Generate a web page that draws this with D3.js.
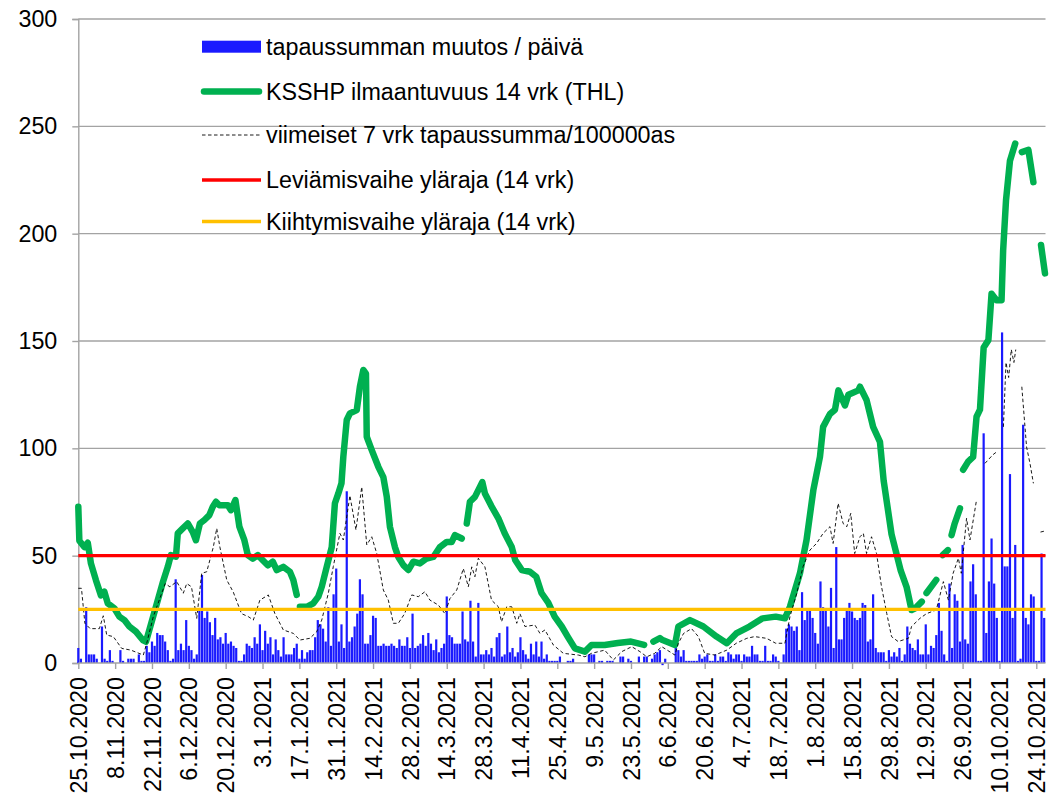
<!DOCTYPE html>
<html>
<head>
<meta charset="utf-8">
<script src="https://cdn.jsdelivr.net/npm/d3@7"></script>
<style>
  body { margin: 0; background: #fff; }
  svg { display: block; font-family: "Liberation Sans", Arial, sans-serif; }
</style>
</head>
<body>
<div id="chart"></div>
<script>
// x-axis labels, one every 14 days starting 25.10.2020 (day 0)
const tickLabels = [
  "25.10.2020", "8.11.2020", "22.11.2020", "6.12.2020", "20.12.2020",
  "3.1.2021", "17.1.2021", "31.1.2021", "14.2.2021", "28.2.2021",
  "14.3.2021", "28.3.2021", "11.4.2021", "25.4.2021", "9.5.2021",
  "23.5.2021", "6.6.2021", "20.6.2021", "4.7.2021", "18.7.2021",
  "1.8.2021", "15.8.2021", "29.8.2021", "12.9.2021", "26.9.2021",
  "10.10.2021", "24.10.2021"
];
const yTicks = [0, 50, 100, 150, 200, 250, 300];

// tapaussumman muutos / päivä, one value per day from 25.10.2020
const dailyCases = [
  7, 2, 0, 26, 4, 4, 4, 2, 0, 17,
  2, 1, 6, 1, 0, 0, 6, 1, 0, 2,
  2, 2, 0, 4, 1, 1, 8, 5, 10, 8,
  14, 13, 13, 10, 6, 1, 2, 39, 6, 9,
  6, 20, 8, 6, 2, 4, 25, 41, 21, 24,
  19, 13, 21, 11, 12, 9, 14, 9, 10, 8,
  7, 1, 1, 4, 9, 8, 7, 12, 9, 18,
  6, 15, 9, 12, 4,
  11, 6, 3, 12, 4, 4, 4, 7, 9, 2,
  6, 2, 5, 6, 6, 12, 20, 18, 16, 10,
  26, 8, 32, 44, 10, 18, 7, 80,
  10, 12, 17, 23, 39, 32, 9, 9, 13, 22,
  21, 8, 8, 9, 8, 8, 9, 8, 7, 11,
  8, 8, 12, 7, 23, 7, 8, 9, 13, 8,
  14, 9, 6, 11, 5, 7, 9, 31, 13, 12,
  9, 9, 9, 24, 11, 10,
  29, 10, 3, 28, 4, 4, 6, 4, 7, 3,
  12, 14, 3, 4, 17, 5, 7, 3, 5, 12,
  6, 4, 2, 9, 4, 10, 3, 10, 2, 4,
  1, 1, 1, 1, 3, 0, 0, 1, 1, 2,
  0, 0, 0, 0, 0, 4, 4, 4, 0, 1,
  1, 0, 1, 1, 1, 0, 0, 3, 3, 0,
  2, 1, 0, 0, 3, 0, 3, 3, 0, 2,
  4, 5, 6,
  -1, 2, 0, 0, 0, 12, 6, 3, 6, 1,
  1, 1, 1, 1, 4, 2, 3, 4, 1, 1,
  4, 1, 3, 3, 1, 5, 4, 2, 4, 4,
  1, 4, 3, 3, 8, 4, 4, 1, 1, 8,
  1, 1, 4, 3, 1, 0, 4, 16, 18, 17,
  15, 17, 6, 33, 20, 25, 25, 21, 14, 9,
  38, 26, 25, 17, 35, 7, 54, 11, 11, 21,
  25, 28, 24, 21,
  20, 21, 28, 27, 10, 11, 32, 7, 5, 5,
  5, 1, 6, 3, 5, 3, 7, 1, 4, 17,
  9, 7, 6, 11, 4, 4, 18, 4, 8, 7,
  13, 28, 15, 4, 1, 37, 7, 32, 29, 10,
  55, 11, 9, 38, 46, 32, 1, 1, 107, 14,
  38, 58, 37, 21, 1, 154, 45, 45, 88, 21,
  55, 1, 2, 111, 21, 18, 32, 31, 1, 1,
  51, 21
];

// KSSHP ilmaantuvuus 14 vrk (THL): [day, value], null = gap in the series
const incidence14 = [
  [0, 72.8], [0.4, 57], [2.3, 54], [3.6, 56], [4.8, 46.4], [6.7, 38.6], [8.6, 31.5], [9.9, 33.2],
  [11.2, 27.8], [13.7, 25.5], [15.6, 21.6], [17.5, 20], [19.4, 17], [21.9, 14.6], [24.5, 10.7],
  [25.7, 9.9], [27, 15.4], [29.5, 26.2], [32, 37.1], [34, 44.8], [35.2, 50.3], [37.1, 49.5],
  [37.8, 60.4], [39.7, 62.7], [41.6, 65], [43.5, 61], [44.7, 57.2], [46.2, 65], [47.9, 66.6],
  [49.8, 68.9], [51.1, 72.8], [52.3, 75.1], [53.6, 73.5], [56.8, 73.5], [58, 71.2], [59.7, 75.9],
  [61.2, 63.5], [63.1, 57.2], [64.4, 50.3], [66.3, 48.6], [68.2, 50.3], [70, 48], [72, 45.5],
  [73.9, 47.2], [75.4, 43.3], [77.9, 44.8], [80.4, 42.5], [81.7, 38.7], [83, 31.7],
  null,
  [84.2, 26.2], [86.8, 26.2], [89.3, 27.8], [91.2, 30.9], [92.5, 35.5], [94.4, 44.8], [96.3, 54],
  [97.5, 74.4], [98.8, 79], [100, 83.7], [100.7, 96.1], [102, 113.2], [103.2, 116.3], [105.8, 117.8],
  [107, 128.7], [108.3, 136.5], [109.3, 134.8], [109.6, 105.4], [111.5, 99.2], [114, 91.4],
  [115.9, 86.6], [117.2, 77.5], [118.4, 63.5], [120.3, 54], [121.6, 49.4], [123.5, 45.6],
  [125.4, 43.3], [127.3, 47.2], [129.8, 46.4], [132.4, 48.7], [134.9, 49.4], [137.4, 54],
  [140, 56.4], [141.9, 56.4], [143.1, 59.6], [145.7, 58],
  null,
  [147.6, 65], [148.8, 75.1], [150.7, 77.4], [152.6, 82], [153.5, 84.3], [154.5, 79], [157, 73],
  [159.6, 67.4], [162, 60.4], [164.7, 54], [166, 48], [168.5, 43.3], [171.6, 42.5], [174, 40.2],
  [176, 32.6], [178.6, 28], [181, 21.6], [183.7, 17], [186, 12.2], [188.7, 6.8], [192.5, 5.3],
  [195, 8.4], [200, 8.4], [205, 9.3], [210, 10], [215, 8.4],
  null,
  [218.5, 10], [221, 11.6], [222, 10.7], [226.7, 8.4], [228, 17], [232.4, 20], [237.5, 17],
  [242.5, 12.3], [246.4, 9.2], [250, 13.8], [255, 17], [260, 20.8], [265, 21.6], [268.5, 20.8],
  [270.4, 26.2], [274.2, 41.8], [276.7, 57.3], [279.3, 80.6], [281.8, 96], [283, 110],
  [285.6, 116], [287.5, 118], [288.8, 127], [291.3, 120], [292.6, 125], [296.4, 127], [297, 128.7],
  [299.5, 122.5], [302, 110], [304.6, 103], [306, 85], [307.2, 75], [309, 60], [312.5, 43],
  [314.7, 35.5], [316.6, 24.7], [318, 25.5], [320.5, 28.6],
  null,
  [322.3, 32.6], [326, 38.7],
  null,
  [328.4, 50.3], [330.4, 52.6],
  null,
  [331.8, 59.6], [333, 65], [335, 72],
  null,
  [336.2, 90], [338.1, 93.8], [340, 96], [341.3, 114.7], [342.6, 118], [344, 147], [345.8, 150.4],
  [347, 172], [348.9, 169], [350.8, 169], [351.4, 192], [352.5, 215.6], [354, 234], [356, 242],
  null,
  [358.5, 238], [361, 239], [362.9, 224],
  null,
  [365.8, 194.7], [367.3, 181.5]
];

// viimeiset 7 vrk tapaussumma/100000as: [day, value], null = gap
const weekly7 = [
  [0, 34.8], [1.2, 34.8], [2.5, 18.5], [4.5, 16], [8, 16], [9.5, 22], [10.8, 13], [13.3, 12.3],
  [16.5, 6.8], [20, 6], [24.7, 3.7], [26, 9.2], [28.5, 21.6], [31.7, 32.5], [33, 37], [34.8, 35.5],
  [37.4, 37.9], [39.9, 32.5], [41.2, 37], [43, 35.5], [45, 20.8], [46.9, 41.8], [48.8, 42.5],
  [51.3, 54], [52.6, 62.7], [53.8, 54], [56.4, 38.7], [58.9, 33], [62, 23], [64.6, 21.6],
  [66.5, 20], [69, 29.3], [72.2, 31.7], [74.7, 23], [77.9, 15.4], [81.7, 13.8], [84.2, 10.7],
  [88, 11.5], [90.6, 14.6], [92.5, 20], [95, 32.5], [96.9, 45], [99.4, 60.4], [100.7, 57.3],
  [103.2, 78], [105.5, 62], [107.7, 82], [109.6, 55], [111.5, 58.8], [113.4, 51], [115.9, 34],
  [117.8, 29.3], [119.7, 18.5], [121.6, 18.5], [124, 23], [126.7, 31.7], [129.2, 30.9],
  [131.7, 33.2], [133.6, 29.3], [136.8, 27], [139.3, 23], [141.2, 30], [143.8, 34], [146.3, 44],
  [148.2, 35.5], [149.5, 44.8], [150.7, 40.2], [152, 48.8], [154.5, 44.8], [157, 29.3],
  [159.6, 26.2], [160.8, 19.2], [162.8, 26.2], [164.7, 26.2], [166.6, 18.5], [167.8, 23],
  [169.7, 17], [173.5, 17.7], [175.4, 13.8], [177.3, 15.4], [180.5, 8.4], [184.3, 4.5],
  [190, 3.7], [192.5, 2.9], [195, 4.5], [200, 6], [203.3, 1.4], [206.5, 5.3], [210.3, 7.6],
  [213.4, 5.3], [216, 2.9], [219, 4.5], [221.7, 7.6], [226.7, 3.7], [228, 9.2], [230, 13.8],
  [233, 16], [235.6, 12.3], [238, 4.5], [241.9, 3.7], [246.4, 6], [250, 9.2], [254, 11.5],
  [257, 12.3], [261.5, 11.5], [265, 9.2], [268.5, 9.2], [270.4, 21.6], [273, 32.5], [275.4, 45],
  [278, 52.6], [280.5, 55.7], [283, 60.4], [285.6, 63.5], [286.8, 55.7], [288.7, 74.4],
  [290.6, 65], [292, 63.5], [293.5, 69.7], [295, 51], [297, 58.8], [298.3, 60.4], [299.5, 51],
  [301.4, 58.8], [303.3, 51], [305.2, 35.5], [307.2, 23], [309, 12.3], [311.5, 10], [315.4, 11.5],
  [316.6, 17], [319.8, 20.8], [322.3, 23], [326, 24.7], [328.7, 37.9], [330.6, 29.3],
  [332.4, 41.8], [334.4, 48.8], [335.5, 41.8], [337.5, 67.4], [338.8, 57.3], [341.3, 76],
  null,
  [344.5, 93], [346, 95], [347.5, 97], [349, 98.4],
  null,
  [351.5, 110], [352.5, 140], [353.5, 133], [354.5, 146], [355.5, 140], [356.2, 146],
  null,
  [358.5, 128.7], [360.3, 100.7], [361.6, 93], [362.9, 83.7],
  null,
  [365.6, 61], [367.3, 61.5]
];

const spreadLimit = 50;   // Leviämisvaihe yläraja (14 vrk)
const accelLimit = 25;    // Kiihtymisvaihe yläraja (14 vrk)

const legendLabels = [
  "tapaussumman muutos / päivä",
  "KSSHP ilmaantuvuus 14 vrk (THL)",
  "viimeiset 7 vrk tapaussumma/100000as",
  "Leviämisvaihe yläraja (14 vrk)",
  "Kiihtymisvaihe yläraja (14 vrk)"
];

const width = 1059, height = 797;
const fontSize = 23.3;
const colors = {
  bar: "#1a1aff",
  green: "#00b050",
  dash: "#000",
  red: "#ff0000",
  orange: "#ffc000",
  grid: "#a3a3a3"
};

const svg = d3.select("#chart").append("svg")
  .attr("width", width)
  .attr("height", height);

const x = d3.scaleLinear().domain([0, 367.5]).range([78.3, 1045.5]);
const y = d3.scaleLinear().domain([0, 300]).range([663, 19]);

// horizontal gridlines
svg.append("g")
  .selectAll("line")
  .data(yTicks.filter(d => d > 0))
  .enter().append("line")
  .attr("x1", x(0)).attr("x2", x.range()[1])
  .attr("y1", d => y(d)).attr("y2", d => y(d))
  .attr("stroke", colors.grid)
  .attr("stroke-width", 1.4);

// y axis
const yAxis = svg.append("g")
  .attr("transform", "translate(" + x(0) + ",0)")
  .call(d3.axisLeft(y).tickValues(yTicks).tickSize(6).tickPadding(15).tickFormat(d3.format("d")));
yAxis.select(".domain").attr("stroke", colors.grid).attr("stroke-width", 1.4);
yAxis.selectAll(".tick line").attr("stroke", colors.grid).attr("stroke-width", 1.4);
yAxis.selectAll("text")
  .style("font-size", fontSize + "px")
  .style("font-family", "'Liberation Sans', Arial, sans-serif")
  .attr("fill", "#000");

// daily bars
svg.append("g")
  .selectAll("rect")
  .data(dailyCases)
  .enter().append("rect")
  .attr("x", (d, i) => x(i) - 1.1)
  .attr("width", 2.2)
  .attr("y", d => y(Math.max(0, d)))
  .attr("height", d => Math.abs(y(d) - y(0)))
  .attr("fill", colors.bar);

// x axis
const xAxis = svg.append("g")
  .attr("transform", "translate(0," + y(0) + ")")
  .call(d3.axisBottom(x)
    .tickValues(tickLabels.map((d, i) => i * 14))
    .tickSize(6)
    .tickFormat((d, i) => tickLabels[i]));
xAxis.select(".domain").attr("stroke", colors.grid).attr("stroke-width", 1.4)
  .attr("d", "M" + x(0) + ",0H" + x.range()[1]);
xAxis.selectAll(".tick line").attr("stroke", colors.grid).attr("stroke-width", 1.4);
xAxis.selectAll("text")
  .attr("transform", "rotate(-90)")
  .attr("x", -14)
  .attr("y", 0)
  .attr("dy", "0.35em")
  .attr("text-anchor", "end")
  .style("font-size", fontSize + "px")
  .style("font-family", "'Liberation Sans', Arial, sans-serif")
  .attr("fill", "#000");

const line = d3.line()
  .defined(d => d !== null)
  .x(d => x(d[0]))
  .y(d => y(d[1]));

// 14 day incidence
svg.append("path")
  .datum(incidence14)
  .attr("d", line)
  .attr("fill", "none")
  .attr("stroke", colors.green)
  .attr("stroke-width", 6.5)
  .attr("stroke-linecap", "round")
  .attr("stroke-linejoin", "round");

// 7 day sum per 100000
svg.append("path")
  .datum(weekly7)
  .attr("d", line)
  .attr("fill", "none")
  .attr("stroke", colors.dash)
  .attr("stroke-width", 0.9)
  .attr("stroke-dasharray", "3.5,2.5");

// threshold lines
[[spreadLimit, colors.red], [accelLimit, colors.orange]].forEach(t => {
  svg.append("line")
    .attr("x1", x(0)).attr("x2", x.range()[1])
    .attr("y1", y(t[0])).attr("y2", y(t[0]))
    .attr("stroke", t[1])
    .attr("stroke-width", 3.3);
});

// legend (no background, sits inside the plot)
const legendRows = [46.7, 91.5, 135, 180, 221.5];
const lx0 = 202, lx1 = 261, ltx = 266;
const legend = svg.append("g");

legend.append("rect")
  .attr("x", lx0).attr("y", legendRows[0] - 6)
  .attr("width", lx1 - lx0).attr("height", 12)
  .attr("fill", colors.bar);

legend.append("line")
  .attr("x1", lx0 + 2).attr("x2", lx1 - 2)
  .attr("y1", legendRows[1]).attr("y2", legendRows[1])
  .attr("stroke", colors.green).attr("stroke-width", 6.5)
  .attr("stroke-linecap", "round");

legend.append("line")
  .attr("x1", lx0).attr("x2", lx1)
  .attr("y1", legendRows[2]).attr("y2", legendRows[2])
  .attr("stroke", colors.dash).attr("stroke-width", 0.9)
  .attr("stroke-dasharray", "3.5,2.5");

legend.append("line")
  .attr("x1", lx0).attr("x2", lx1)
  .attr("y1", legendRows[3]).attr("y2", legendRows[3])
  .attr("stroke", colors.red).attr("stroke-width", 3.3);

legend.append("line")
  .attr("x1", lx0).attr("x2", lx1)
  .attr("y1", legendRows[4]).attr("y2", legendRows[4])
  .attr("stroke", colors.orange).attr("stroke-width", 3.3);

legend.selectAll("text")
  .data(legendLabels)
  .enter().append("text")
  .attr("x", ltx)
  .attr("y", (d, i) => legendRows[i])
  .attr("dy", "0.35em")
  .style("font-size", fontSize + "px")
  .attr("fill", "#000")
  .text(d => d);
</script>
</body>
</html>
